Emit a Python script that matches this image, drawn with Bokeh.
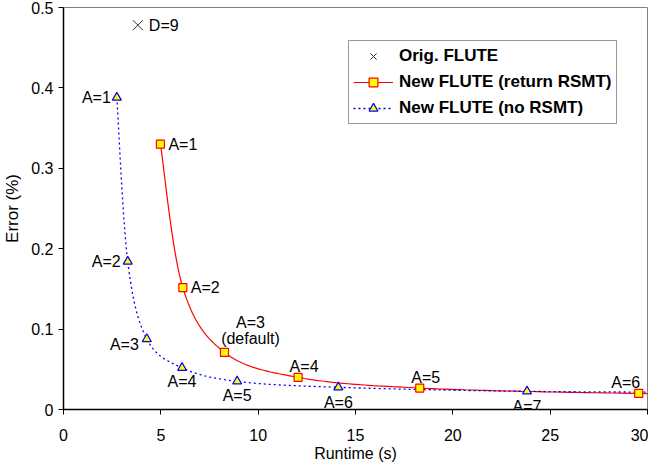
import numpy as np
from bokeh.plotting import figure
from bokeh.models import ColumnDataSource, FixedTicker, Legend, LegendItem, Range1d
from bokeh.core.properties import value
from bokeh.embed import file_html
from bokeh.resources import INLINE

# ---------------- data ----------------
orig_runtime = [3.82]
orig_error = [0.478]
orig_labels = ["D=9"]

rsmt_runtime = [4.98, 6.13, 8.27, 12.05, 18.30, 29.55, 45.0]
rsmt_error = [0.330, 0.1516, 0.071, 0.040, 0.0267, 0.020, 0.017]
rsmt_labels = ["A=1", "A=2", "A=3\n(default)", "A=4", "A=5", "A=6", ""]

norsmt_runtime = [2.74, 3.30, 4.28, 6.09, 8.92, 14.12, 23.81, 36.0]
norsmt_error = [0.388, 0.184, 0.0877, 0.0518, 0.035, 0.0276, 0.0226, 0.0212]
norsmt_labels = ["A=1", "A=2", "A=3", "A=4", "A=5", "A=6", "A=7", ""]

x_ticks = [0, 5, 10, 15, 20, 25, 30]
y_ticks = [0, 0.1, 0.2, 0.3, 0.4, 0.5]

# ---------------- label styling (offsets in px) ----------------
rsmt_dx = [8, 8, 26, 6, 6, -13, 0]
rsmt_dy = [0, 0, -22, -11, -11, -11, -11]
rsmt_align = ["left", "left", "center", "center", "center", "center", "center"]

norsmt_dx = [-6, -7, -8, 0, 0, 0, 0, 0]
norsmt_dy = [0, 0, 6, 14, 14, 15, 15, 15]
norsmt_align = ["right", "right", "right", "center", "center", "center", "center", "center"]

FONT = "Liberation Sans"
SX, SY = 19.47, 798.0  # approx px per data unit, used for smoothing shape


def smooth(xs, ys, n=30):
    """Catmull-Rom (Excel-like) smoothing through the data points."""
    px = np.array(xs) * SX
    py = np.array(ys) * SY
    P = np.column_stack([px, py])
    P = np.vstack([P[0], P, P[-1]])
    out = []
    for i in range(1, len(P) - 2):
        p0, p1, p2, p3 = P[i - 1], P[i], P[i + 1], P[i + 2]
        c1 = p1 + (p2 - p0) / 6.0
        c2 = p2 - (p3 - p1) / 6.0
        t = np.linspace(0, 1, n)[:, None]
        seg = ((1 - t) ** 3) * p1 + 3 * ((1 - t) ** 2) * t * c1 + 3 * (1 - t) * t ** 2 * c2 + t ** 3 * p2
        out.append(seg if i == 1 else seg[1:])
    out = np.vstack(out)
    return out[:, 0] / SX, out[:, 1] / SY


p = figure(
    frame_width=584, frame_height=402,
    x_range=Range1d(0, 30), y_range=Range1d(0, 0.5),
    output_backend="svg", toolbar_location=None,
    min_border_left=58, min_border_right=1, min_border_top=7, min_border_bottom=56,
)
p.xgrid.visible = False
p.ygrid.visible = False
p.outline_line_color = "#808080"
p.outline_line_width = 1
p.background_fill_color = "white"
p.border_fill_color = "white"

for ax in (p.xaxis[0], p.yaxis[0]):
    ax.axis_line_color = "black"
    ax.axis_line_width = 1.5
    ax.major_tick_line_color = "black"
    ax.major_tick_out = 5
    ax.major_tick_in = 0
    ax.minor_tick_out = 0
    ax.minor_tick_in = 0
    ax.major_label_text_font = FONT
    ax.major_label_text_font_size = "16px"
    ax.major_label_text_color = "black"
    ax.axis_label_text_font = FONT
    ax.axis_label_text_font_size = "16px"
    ax.axis_label_text_font_style = "normal"
    ax.axis_label_text_color = "black"

p.yaxis.axis_label_text_font_size = "17px"
p.xaxis.ticker = FixedTicker(ticks=x_ticks)
p.yaxis.ticker = FixedTicker(ticks=y_ticks)
p.xaxis.major_label_overrides = {t: str(t) for t in x_ticks}
p.yaxis.major_label_overrides = {t: ("0" if t == 0 else f"{t:.1f}") for t in y_ticks}
p.xaxis.axis_label = "Runtime (s)"
p.yaxis.axis_label = "Error (%)"
p.xaxis.major_label_standoff = 14
p.yaxis.major_label_standoff = 5
p.xaxis.axis_label_standoff = 1
p.yaxis.axis_label_standoff = 6

# lines
rx, ry = smooth(rsmt_runtime, rsmt_error)
nx, ny = smooth(norsmt_runtime, norsmt_error)
r_line = p.line(rx, ry, line_color="#FF0000", line_width=1.2)
n_line = p.line(nx, ny, line_color="#0000FF", line_width=1.3, line_dash="2 3")

# markers
r_pts = p.scatter(rsmt_runtime, rsmt_error, marker="square", size=8,
                  fill_color="#FFFF00", line_color="#FF0000", line_width=1.2)
n_pts = p.scatter(norsmt_runtime, norsmt_error, marker="triangle", size=9,
                  fill_color="#FFFF00", line_color="#0000FF", line_width=1.2)
o_pts = p.scatter(orig_runtime, orig_error, marker="x", size=14,
                  line_color="#333333", line_width=1)

# labels
src_r = ColumnDataSource(dict(x=rsmt_runtime, y=rsmt_error, t=rsmt_labels,
                              dx=rsmt_dx, dy=rsmt_dy, a=rsmt_align))
p.text("x", "y", text="t", x_offset="dx", y_offset="dy", text_align="a",
       text_baseline="middle", text_font=value(FONT), text_font_size="16px",
       text_color="black", text_line_height=0.95, source=src_r)
src_n = ColumnDataSource(dict(x=norsmt_runtime, y=norsmt_error, t=norsmt_labels,
                              dx=norsmt_dx, dy=norsmt_dy, a=norsmt_align))
p.text("x", "y", text="t", x_offset="dx", y_offset="dy", text_align="a",
       text_baseline="middle", text_font=value(FONT), text_font_size="16px",
       text_color="black", source=src_n)
p.text(orig_runtime, orig_error, text=orig_labels, x_offset=11, y_offset=0,
       text_align="left", text_baseline="middle", text_font=value(FONT),
       text_font_size="16px", text_color="black")

legend = Legend(
    items=[
        LegendItem(label="Orig. FLUTE", renderers=[o_pts]),
        LegendItem(label="New FLUTE (return RSMT)", renderers=[r_line, r_pts]),
        LegendItem(label="New FLUTE (no RSMT)", renderers=[n_line, n_pts]),
    ],
    location=(285, 285),
    label_text_font=FONT, label_text_font_size="17px", label_text_font_style="bold",
    label_text_color="black",
    glyph_width=40, glyph_height=22, label_height=22, label_standoff=6,
    spacing=4, padding=4, margin=0,
    border_line_color="#333333", border_line_width=1,
    background_fill_color="white", background_fill_alpha=1.0,
)
p.add_layout(legend, "center")

open("out.html", "w").write(file_html(p, INLINE))
